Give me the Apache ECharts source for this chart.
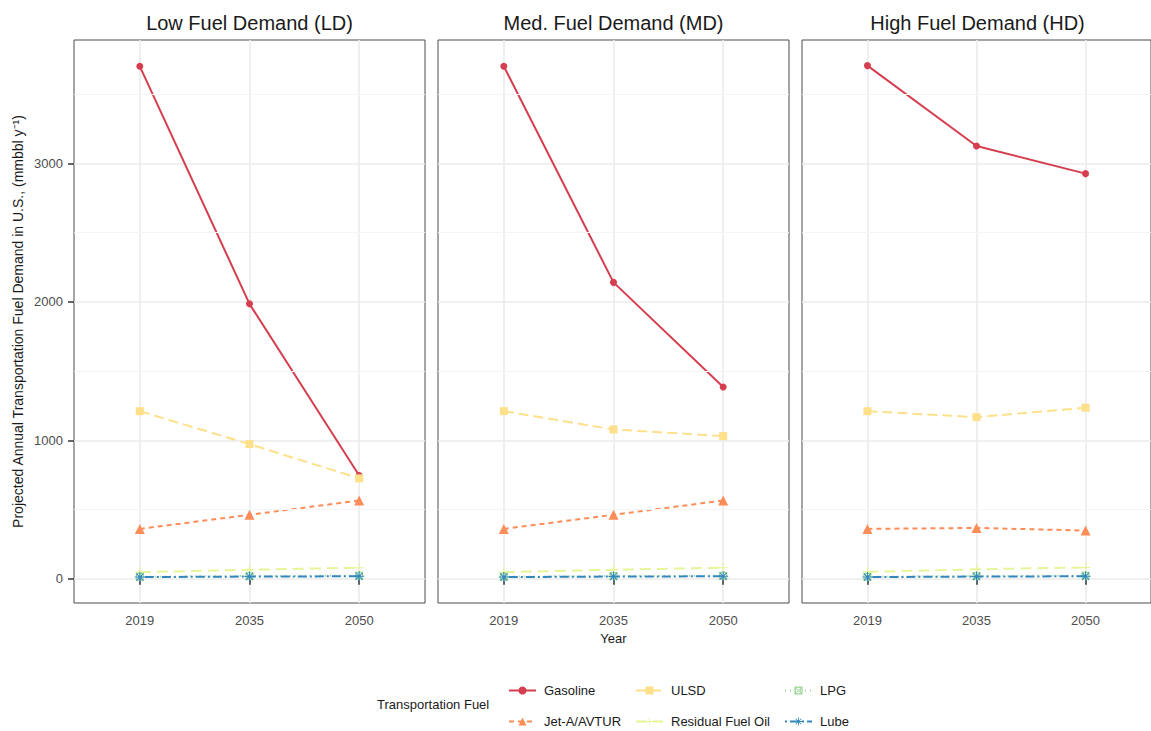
<!DOCTYPE html>
<html><head><meta charset="utf-8">
<script src="https://cdn.jsdelivr.net/npm/echarts@6/dist/echarts.min.js"></script>
<style>html,body{margin:0;padding:0;background:#fff}#c{width:1151px;height:731px}</style>
</head><body><div id="c"></div>
<script>
// ---- data ----
const years = ['2019', '2035', '2050'];
const panels = ['Low Fuel Demand (LD)', 'Med. Fuel Demand (MD)', 'High Fuel Demand (HD)'];
const fuels = ['Gasoline', 'Jet-A/AVTUR', 'ULSD', 'Residual Fuel Oil', 'LPG', 'Lube'];
// values per panel [LD, MD, HD], each [2019, 2035, 2050]
const gasoline = [[3700, 1985, 745], [3700, 2140, 1385], [3705, 3125, 2925]];
const jet      = [[360, 462, 565], [360, 462, 565], [360, 367, 348]];
const ulsd     = [[1210, 972, 725], [1210, 1078, 1030], [1210, 1167, 1235]];
const residual = [[48, 65, 80], [48, 65, 80], [50, 68, 82]];
const lpg      = [[15, 20, 22], [15, 20, 22], [15, 20, 22]];
const lube     = [[12, 16, 18], [12, 16, 18], [12, 16, 18]];
const yTicks = [0, 1000, 2000, 3000];
const yMinor = [500, 1500, 2500, 3500];

// ---- styles ----
const FONT = "'Liberation Sans', Arial, sans-serif";
const fuelValues = [gasoline, jet, ulsd, residual, lpg, lube];
const colors = ['#D53E4F', '#FC8D59', '#FEE08B', '#E6F598', '#99D594', '#3288BD'];
const plusPath = 'path://M9,0L11,0L11,20L9,20ZM0,9L20,9L20,11L0,11Z';
const starPath = 'path://M9,0L11,0L11,20L9,20ZM0,9L20,9L20,11L0,11Z' +
  'M3.64,2.22L17.78,16.36L16.36,17.78L2.22,3.64Z' +
  'M16.36,2.22L17.78,3.64L3.64,17.78L2.22,16.36Z';
const sqCrossPath = 'path://M0,0L20,0L20,20L0,20ZM3,3L3,17L17,17L17,3Z' +
  'M3.64,2.22L17.78,16.36L16.36,17.78L2.22,3.64Z' +
  'M16.36,2.22L17.78,3.64L3.64,17.78L2.22,16.36Z';
const symbols = ['circle', 'triangle', 'rect', plusPath, sqCrossPath, starPath];
const symSizes = [7, 10, 8, 10, 8, 10];
const dashes = ['solid', [5, 4], [10, 5], [11, 6], [1, 4], [2, 3, 9, 3]];

const gridLefts = [74, 438, 802];
const gridW = 351, gridTop = 40, gridH = 563;

const grid = gridLefts.map(l => ({
  left: l, top: gridTop, width: gridW, height: gridH,
  show: true, backgroundColor: '#fff', borderColor: '#4d4d4d', borderWidth: 1
}));

const xAxis = gridLefts.map((l, i) => ({
  type: 'value', gridIndex: i, min: 0.4, max: 3.6,
  name: i === 1 ? 'Year' : '', nameLocation: 'middle', nameGap: 29,
  nameTextStyle: { fontFamily: FONT, fontSize: 13, color: '#1a1a1a' },
  axisLine: { show: false },
  axisTick: { show: true, customValues: [1, 2, 3], length: 6, lineStyle: { color: '#333', width: 1.5 } },
  axisLabel: { customValues: [1, 2, 3], formatter: v => years[Math.round(v) - 1], color: '#4d4d4d', fontSize: 13, fontFamily: FONT, margin: 11 },
  splitLine: { show: true, lineStyle: { color: '#ebebeb', width: 1.6 } }
}));

const yAxis = gridLefts.map((l, i) => ({
  type: 'value', gridIndex: i, min: -175, max: 3890,
  name: i === 0 ? 'Projected Annual Transportation Fuel Demand in U.S., (mmbbl y\u207B\u00B9)' : '',
  nameLocation: 'middle', nameGap: 49,
  nameTextStyle: { fontFamily: FONT, fontSize: 14, color: '#1a1a1a' },
  axisLine: { show: false },
  axisTick: { show: i === 0, customValues: yTicks, length: 6, lineStyle: { color: '#333', width: 1.5 } },
  axisLabel: { show: i === 0, customValues: yTicks, formatter: v => String(v), color: '#4d4d4d', fontSize: 13, fontFamily: FONT, margin: 11 },
  splitLine: { show: true, lineStyle: { color: '#ebebeb', width: 1.6 } }
}));

const series = [];
gridLefts.forEach((l, p) => {
  series.push({
    type: 'line', xAxisIndex: p, yAxisIndex: p, data: [], z: 1, silent: true,
    markLine: {
      silent: true, symbol: ['none', 'none'], animation: false,
      label: { show: false },
      lineStyle: { type: 'solid', color: '#f4f4f4', width: 1 },
      data: yMinor.map(v => ({ yAxis: v }))
    }
  });
  fuels.forEach((f, k) => {
    series.push({
      name: f, type: 'line', xAxisIndex: p, yAxisIndex: p,
      data: fuelValues[k][p].map((v, j) => [j + 1, v]),
      symbol: symbols[k], symbolSize: symSizes[k],
      lineStyle: { color: colors[k], width: 2, type: dashes[k] },
      itemStyle: { color: colors[k] },
      z: 3 + k
    });
  });
});

// legend: 3 columns x 2 rows, filled by column
const legendCols = [503, 630, 779];
const legendRows = [679, 710];
const legend = fuels.map((f, k) => ({
  orient: 'horizontal',
  left: legendCols[Math.floor(k / 2)], top: legendRows[k % 2],
  itemWidth: 27, itemHeight: 10,
  textStyle: { fontFamily: FONT, fontSize: 13, color: '#1a1a1a', padding: [0, 0, 0, 3] },
  selectedMode: false,
  data: [f]
}));

const graphic = panels.map((t, i) => ({
  type: 'text', x: gridLefts[i] + gridW / 2, y: 23,
  style: { text: t, fontSize: 20, fontFamily: FONT, fill: '#1a1a1a', align: 'center', verticalAlign: 'middle' }
}));
graphic.push({
  type: 'text', x: 377, y: 704,
  style: { text: 'Transportation Fuel', fontSize: 13, fontFamily: FONT, fill: '#1a1a1a', align: 'left', verticalAlign: 'middle' }
});

const chart = echarts.init(document.getElementById('c'), null, { renderer: 'svg' });
chart.setOption({
  backgroundColor: '#fff', animation: false,
  grid, xAxis, yAxis, series, legend, graphic
});
</script></body></html>
